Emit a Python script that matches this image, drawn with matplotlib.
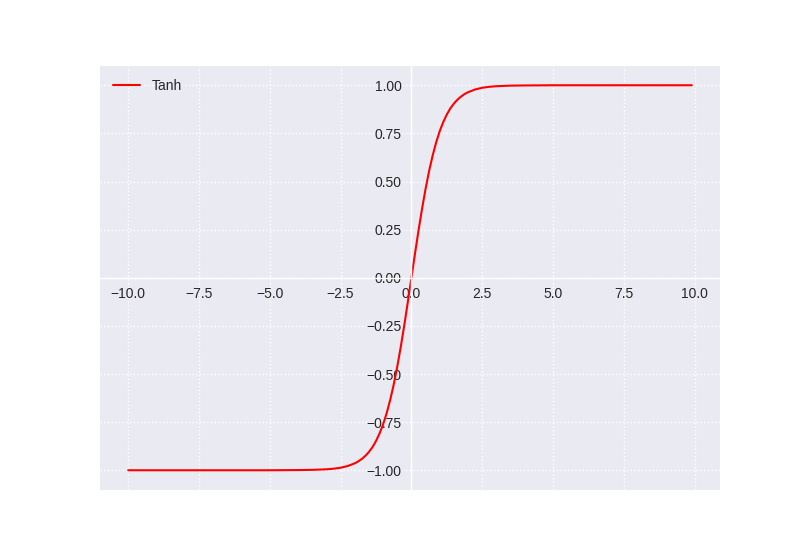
import matplotlib
matplotlib.use('Agg')
import matplotlib.pyplot as plt

# Tanh 曲线上读取的点
x = [-10.0, -8.0, -6.0, -5.0, -4.0, -3.5, -3.0, -2.75, -2.5, -2.25, -2.0,
     -1.875, -1.75, -1.625, -1.5, -1.375, -1.25, -1.125, -1.0, -0.875, -0.75,
     -0.625, -0.5, -0.375, -0.25, -0.125, 0.0, 0.125, 0.25, 0.375, 0.5, 0.625,
     0.75, 0.875, 1.0, 1.125, 1.25, 1.375, 1.5, 1.625, 1.75, 1.875, 2.0, 2.25,
     2.5, 2.75, 3.0, 3.5, 4.0, 5.0, 6.0, 8.0, 9.9]
y = [-1.000, -1.000, -1.000, -1.000, -0.999, -0.998, -0.995, -0.992, -0.987,
     -0.978, -0.964, -0.954, -0.941, -0.925, -0.905, -0.880, -0.848, -0.809,
     -0.762, -0.704, -0.635, -0.555, -0.462, -0.358, -0.245, -0.124, 0.0,
     0.124, 0.245, 0.358, 0.462, 0.555, 0.635, 0.704, 0.762, 0.809, 0.848,
     0.880, 0.905, 0.925, 0.941, 0.954, 0.964, 0.978, 0.987, 0.992, 0.995,
     0.998, 0.999, 1.000, 1.000, 1.000, 1.000]

plt.style.use('seaborn-v0_8')
fig, ax = plt.subplots(figsize=(8, 5.5), dpi=100)
ax.plot(x, y, color='red', linewidth=1.5, label='Tanh')

# 坐标轴移到原点
ax.spines['left'].set_position('zero')
ax.spines['bottom'].set_position('zero')
for side in ['left', 'bottom']:
    ax.spines[side].set_linewidth(1)
    ax.spines[side].set_color('white')
ax.grid(True, linestyle=':')
ax.legend(loc='upper left')

fig.savefig('out.png')
